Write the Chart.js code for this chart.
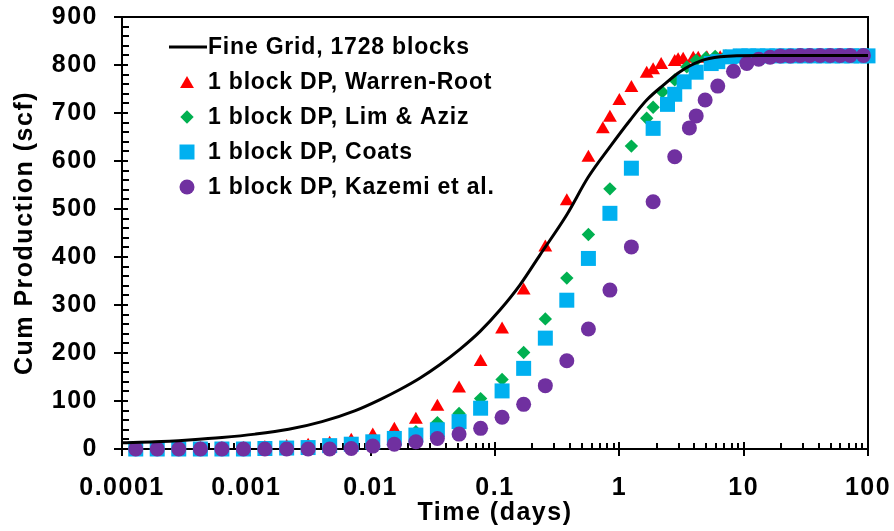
<!DOCTYPE html>
<html>
<head>
<meta charset="utf-8">
<script src="https://cdn.jsdelivr.net/npm/chart.js@4.4.1/dist/chart.umd.min.js"></script>
<style>
  html, body { margin: 0; padding: 0; background: #fff; }
  #wrap { width: 894px; height: 531px; }
</style>
</head>
<body>
<div id="wrap"><canvas id="cumChart" width="894" height="531"></canvas></div>
<script>
// x axis decades and their labels
const xTickValues = [0.0001, 0.001, 0.01, 0.1, 1, 10, 100];
const xTickLabels = ['0.0001', '0.001', '0.01', '0.1', '1', '10', '100'];

// fine grid reference solution
const fineDays = [0.0001, 0.000185, 0.000344, 0.000637, 0.00118, 0.00219, 0.00406, 0.00753, 0.0119, 0.0172,
  0.025, 0.0362, 0.0524, 0.0759, 0.110, 0.159, 0.231, 0.378, 0.561, 0.843,
  1.22, 1.66, 2.26, 3.08, 4.47, 6.47, 13.6, 100];
const fineCum = [13, 15, 19, 24, 31, 41, 57, 80, 103, 124,
  148, 176, 208, 245, 290, 342, 405, 488, 566, 630,
  685, 727, 758, 786, 808, 817, 820, 820];

// report times shared by all single block runs
const reportDays = [0.000129, 0.000192, 0.000286, 0.000427, 0.000636, 0.000948, 0.00141, 0.00211, 0.00314, 0.00468,
  0.00698, 0.0104, 0.0155, 0.0231, 0.0344, 0.0514, 0.0766, 0.114, 0.170, 0.254, 0.378, 0.564];

// Warren-Root
const warrenLateDays = [0.737, 0.840, 1.00, 1.25, 1.66, 1.87, 2.17, 2.79, 2.97, 3.26, 3.93, 4.31,
  5.06, 6.47, 7.69, 10.2, 13.6, 18.1, 24.2, 32.3, 43.1, 57.5, 76.7, 95];
const warrenCum = [0, 0, 0, 0, 0, 0, 2, 4, 7, 11, 17, 28, 40, 61, 88, 126, 181, 249, 330, 420, 516, 607,
  666, 690, 725, 752, 782, 789, 800, 806, 810, 811, 813, 813,
  814, 814, 814, 814, 814, 814, 814, 814, 814, 814, 814, 814];

// Lim & Aziz
const limLateDays = [0.840, 1.25, 1.66, 1.87, 2.22, 2.79, 3.49, 4.15, 4.97, 5.9, 7.2, 8.8,
  10.7, 13, 16, 19.5, 24, 29, 35, 43, 52, 63, 77, 94];
const limCum = [0, 0, 0, 0, 0, 0, 1, 2, 4, 7, 11, 17, 25, 36, 55, 74, 105, 145, 201, 271, 356, 447,
  542, 631, 689, 712, 744, 769, 796, 810, 815, 818, 819, 820,
  820, 820, 820, 820, 820, 820, 820, 820, 820, 820, 820, 820];

// Coats
const coatsLateDays = [0.840, 1.25, 1.87, 2.44, 2.79, 3.32, 4.15, 5.48, 6.19, 7.79, 9.38, 11,
  13, 15.5, 18.5, 22, 26, 31, 37, 44, 52, 62, 74, 88, 100];
const coatsCum = [0, 0, 0, 0, 0, 0, 1, 2, 3, 7, 10, 15, 22, 29, 40, 57, 85, 121, 168, 231, 310, 397,
  491, 585, 668, 718, 739, 765, 785, 803, 807, 817, 819, 819,
  819, 819, 819, 819, 819, 819, 819, 819, 819, 819, 819, 819, 819];

// Kazemi et al.
const kazemiLateDays = [0.840, 1.25, 1.87, 2.79, 3.66, 4.15, 4.90, 6.19, 8.28, 10.6, 13.2, 16.3,
  19.7, 23.7, 28.5, 34, 41.2, 49.7, 59.7, 71.9, 92];
const kazemiCum = [0, 0, 0, 0, 0, 0, 0, 0, 0, 0, 1, 6, 10, 15, 22, 31, 43, 66, 93, 132, 184, 250,
  331, 421, 515, 609, 669, 694, 727, 756, 787, 803, 812, 816,
  819, 819, 820, 820, 820, 820, 820, 820, 820];

const FONT = '"Liberation Sans", Arial, Helvetica, sans-serif';
Chart.defaults.font.family = FONT;
Chart.defaults.color = '#000';

function toPoints(days, cum) {
  return days.map((t, i) => ({ x: t, y: cum[i] }));
}

function markerSet(label, days, cum, color, style, radius, order) {
  return {
    label: label,
    data: toPoints(days, cum),
    showLine: false,
    pointStyle: style,
    pointRadius: radius,
    pointBorderWidth: 0,
    backgroundColor: color,
    borderColor: color,
    clip: false,
    order: order
  };
}

const datasets = [
  {
    label: 'Fine Grid, 1728 blocks',
    data: toPoints(fineDays, fineCum),
    showLine: true,
    borderColor: '#000000',
    backgroundColor: '#000000',
    borderWidth: 3,
    pointRadius: 0,
    cubicInterpolationMode: 'monotone',
    clip: false,
    order: 0
  },
  markerSet('1 block DP, Warren-Root', reportDays.concat(warrenLateDays), warrenCum, '#FF0000', 'triangle', 8, 4),
  markerSet('1 block DP, Lim & Aziz', reportDays.concat(limLateDays), limCum, '#00B050', 'rectRot', 6.7, 3),
  markerSet('1 block DP, Coats', reportDays.concat(coatsLateDays), coatsCum, '#00B0F0', 'rect', 10.6, 2),
  markerSet('1 block DP, Kazemi et al.', reportDays.concat(kazemiLateDays), kazemiCum, '#7030A0', 'circle', 7.5, 1)
];

// box around the plot with excel style tick marks
const axisFrame = {
  id: 'axisFrame',
  beforeDraw(chart) {
    chart.ctx.letterSpacing = '1.5px';
  },
  beforeDatasetsDraw(chart) {
    const { ctx, chartArea: a, scales: { x, y } } = chart;
    ctx.save();
    ctx.strokeStyle = '#000';
    ctx.lineWidth = 2;
    ctx.strokeRect(a.left, a.top, a.right - a.left, a.bottom - a.top);

    ctx.beginPath();
    // y: major every 100 across the axis, minor every 20 inside
    for (let v = y.min; v <= y.max; v += 20) {
      const py = Math.round(y.getPixelForValue(v));
      if (v % 100 === 0) {
        ctx.moveTo(a.left - 8, py);
        ctx.lineTo(a.left + 6, py);
      } else {
        ctx.moveTo(a.left, py);
        ctx.lineTo(a.left + 7, py);
      }
    }
    // x: decades across the axis, 2..9 inside
    xTickValues.forEach((dec, i) => {
      const px = Math.round(x.getPixelForValue(dec));
      ctx.moveTo(px, a.bottom - 7);
      ctx.lineTo(px, a.bottom + 7);
      if (i < xTickValues.length - 1) {
        for (let m = 2; m <= 9; m++) {
          const mx = Math.round(x.getPixelForValue(m * dec));
          ctx.moveTo(mx, a.bottom);
          ctx.lineTo(mx, a.bottom - 6);
        }
      }
    });
    ctx.stroke();
    ctx.restore();
  }
};

// legend drawn inside the plot, top left
const insetLegend = {
  id: 'insetLegend',
  afterDraw(chart) {
    const ctx = chart.ctx;
    ctx.save();
    ctx.font = 'bold 23px ' + FONT;
    ctx.letterSpacing = '0.8px';
    ctx.textBaseline = 'middle';
    chart.data.datasets.forEach((ds, i) => {
      const y = 47 + i * 35;
      if (ds.showLine) {
        ctx.strokeStyle = ds.borderColor;
        ctx.lineWidth = 3;
        ctx.beginPath();
        ctx.moveTo(169, y);
        ctx.lineTo(207, y);
        ctx.stroke();
      } else {
        ctx.fillStyle = ds.backgroundColor;
        ctx.strokeStyle = ds.borderColor;
        const dy = ds.pointStyle === 'triangle' ? 2 : 0;
        Chart.helpers.drawPoint(ctx, { pointStyle: ds.pointStyle, radius: ds.pointRadius, rotation: 0, borderWidth: 0 }, 187, y + dy);
      }
      ctx.fillStyle = '#000';
      ctx.fillText(ds.label, 208, y + 1);
    });
    ctx.restore();
  }
};

const boldFont = { size: 25, weight: 'bold', lineHeight: 1.2 };

new Chart(document.getElementById('cumChart'), {
  type: 'scatter',
  data: { datasets: datasets },
  options: {
    responsive: false,
    animation: false,
    events: [],
    layout: { padding: { top: 17, right: 26, left: 0, bottom: 0 } },
    plugins: { legend: { display: false }, tooltip: { enabled: false } },
    scales: {
      x: {
        type: 'logarithmic',
        min: 0.0001,
        max: 100,
        grid: { display: false, drawTicks: false },
        border: { display: false },
        afterBuildTicks: (s) => { s.ticks = xTickValues.map(v => ({ value: v })); },
        afterFit: (s) => { s.height = 82; s.paddingLeft = 0; s.paddingRight = 0; },
        ticks: {
          autoSkip: false,
          maxRotation: 0,
          padding: 24,
          font: boldFont,
          callback: (v, i) => xTickLabels[i]
        },
        title: { display: true, text: 'Time (days)', font: boldFont, padding: { top: 0, bottom: 3 } }
      },
      y: {
        min: 0,
        max: 900,
        grid: { display: false, drawTicks: false },
        border: { display: false },
        afterFit: (s) => { s.width = 122; s.paddingTop = 0; s.paddingBottom = 0; },
        ticks: { stepSize: 100, padding: 24, font: boldFont },
        title: { display: true, text: 'Cum Production (scf)', font: boldFont, padding: { top: 10, bottom: 0 } }
      }
    }
  },
  plugins: [axisFrame, insetLegend]
});
</script>
</body>
</html>
